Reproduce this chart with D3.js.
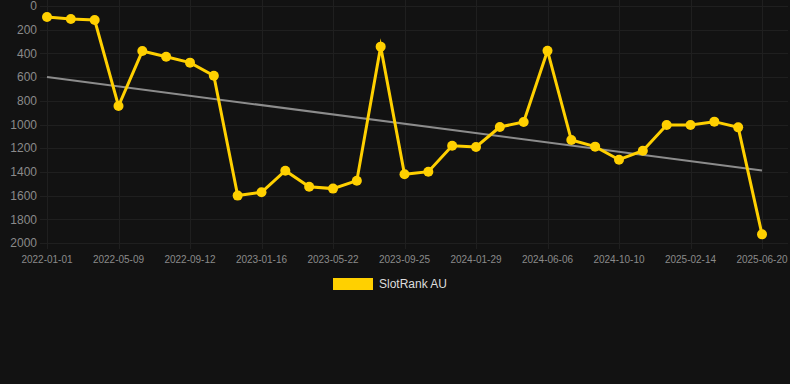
<!DOCTYPE html>
<html lang="en">
<head>
    <meta charset="UTF-8">
    <title>SlotRank AU</title>
    <script src="https://d3js.org/d3.v7.min.js"></script>
    <style>
        body { margin: 0; background: #121212; }
        svg { display: block; background: #121212; }
        .grid line { stroke: #1f1f1f; stroke-width: 1; }
        .tick-label { fill: #8a8a8a; font-family: "Liberation Sans", Arial, sans-serif; }
        .legend-text { fill: #dddddd; font-family: "Liberation Sans", Arial, sans-serif; font-size: 12px; }
    </style>
</head>
<body>
    <svg width="790" height="384"></svg>
    <script>
        // rank per sample, every third sample carries a date label
        const ranks = [93, 110, 118, 844, 380, 428, 478, 588, 1600, 1572,
                       1390, 1525, 1541, 1474, 343, 1420, 1398, 1179, 1190, 1021,
                       979, 377, 1131, 1187, 1297, 1221, 1004, 1004, 976, 1024,
                       1927];
        const tickLabels = ["2022-01-01", "2022-05-09", "2022-09-12", "2023-01-16", "2023-05-22",
                            "2023-09-25", "2024-01-29", "2024-06-06", "2024-10-10", "2025-02-14",
                            "2025-06-20"];
        const yTicks = [0, 200, 400, 600, 800, 1000, 1200, 1400, 1600, 1800, 2000];
        const seriesName = "SlotRank AU";

        const svg = d3.select("svg");
        const idx = d3.range(ranks.length);

        const x = d3.scalePoint().domain(idx).range([47, 762]);
        const y = d3.scaleLinear().domain([0, 2000]).range([6, 243]);

        // least squares trend
        function trend(vals) {
            const mx = d3.mean(idx), my = d3.mean(vals);
            const sxy = d3.sum(idx, i => (i - mx) * (vals[i] - my));
            const sxx = d3.sum(idx, i => (i - mx) * (i - mx));
            const slope = sxy / sxx;
            return { slope, intercept: my - slope * mx };
        }
        const fit = trend(ranks);

        const grid = svg.append("g").attr("class", "grid");
        grid.selectAll(".h").data(yTicks).join("line")
            .attr("x1", 40).attr("x2", 788)
            .attr("y1", d => Math.round(y(d)) + 0.5)
            .attr("y2", d => Math.round(y(d)) + 0.5);
        const labelIdx = tickLabels.map((d, i) => i * 3);
        grid.selectAll(".v").data(labelIdx).join("line")
            .attr("x1", d => Math.round(x(d)) + 0.5).attr("x2", d => Math.round(x(d)) + 0.5)
            .attr("y1", 0).attr("y2", 249);

        svg.append("g").selectAll("text").data(yTicks).join("text")
            .attr("class", "tick-label")
            .attr("x", 37)
            .attr("y", d => y(d))
            .attr("dy", "0.35em")
            .attr("text-anchor", "end")
            .style("font-size", "12px")
            .text(d => d);

        svg.append("g").selectAll("text").data(tickLabels).join("text")
            .attr("class", "tick-label")
            .attr("x", (d, i) => x(i * 3))
            .attr("y", 259)
            .attr("dy", "0.35em")
            .attr("text-anchor", "middle")
            .style("font-size", "10px")
            .text(d => d);

        svg.append("line")
            .attr("x1", x(0)).attr("y1", y(fit.intercept))
            .attr("x2", x(ranks.length - 1)).attr("y2", y(fit.intercept + fit.slope * (ranks.length - 1)))
            .attr("stroke", "#8c8c8c")
            .attr("stroke-width", 2);

        const line = d3.line().x((d, i) => x(i)).y(d => y(d));
        svg.append("path")
            .datum(ranks)
            .attr("d", line)
            .attr("fill", "none")
            .attr("stroke", "#ffd000")
            .attr("stroke-width", 3)
            .attr("stroke-linejoin", "miter")
            .attr("stroke-miterlimit", 10);

        svg.append("g").selectAll("circle").data(ranks).join("circle")
            .attr("cx", (d, i) => x(i))
            .attr("cy", d => y(d))
            .attr("r", 5)
            .attr("fill", "#ffd000");

        const legend = svg.append("g");
        legend.append("rect")
            .attr("x", 333).attr("y", 278)
            .attr("width", 40).attr("height", 12)
            .attr("fill", "#ffd000");
        legend.append("text")
            .attr("class", "legend-text")
            .attr("x", 379).attr("y", 284)
            .attr("dy", "0.35em")
            .text(seriesName);
    </script>
</body>
</html>
